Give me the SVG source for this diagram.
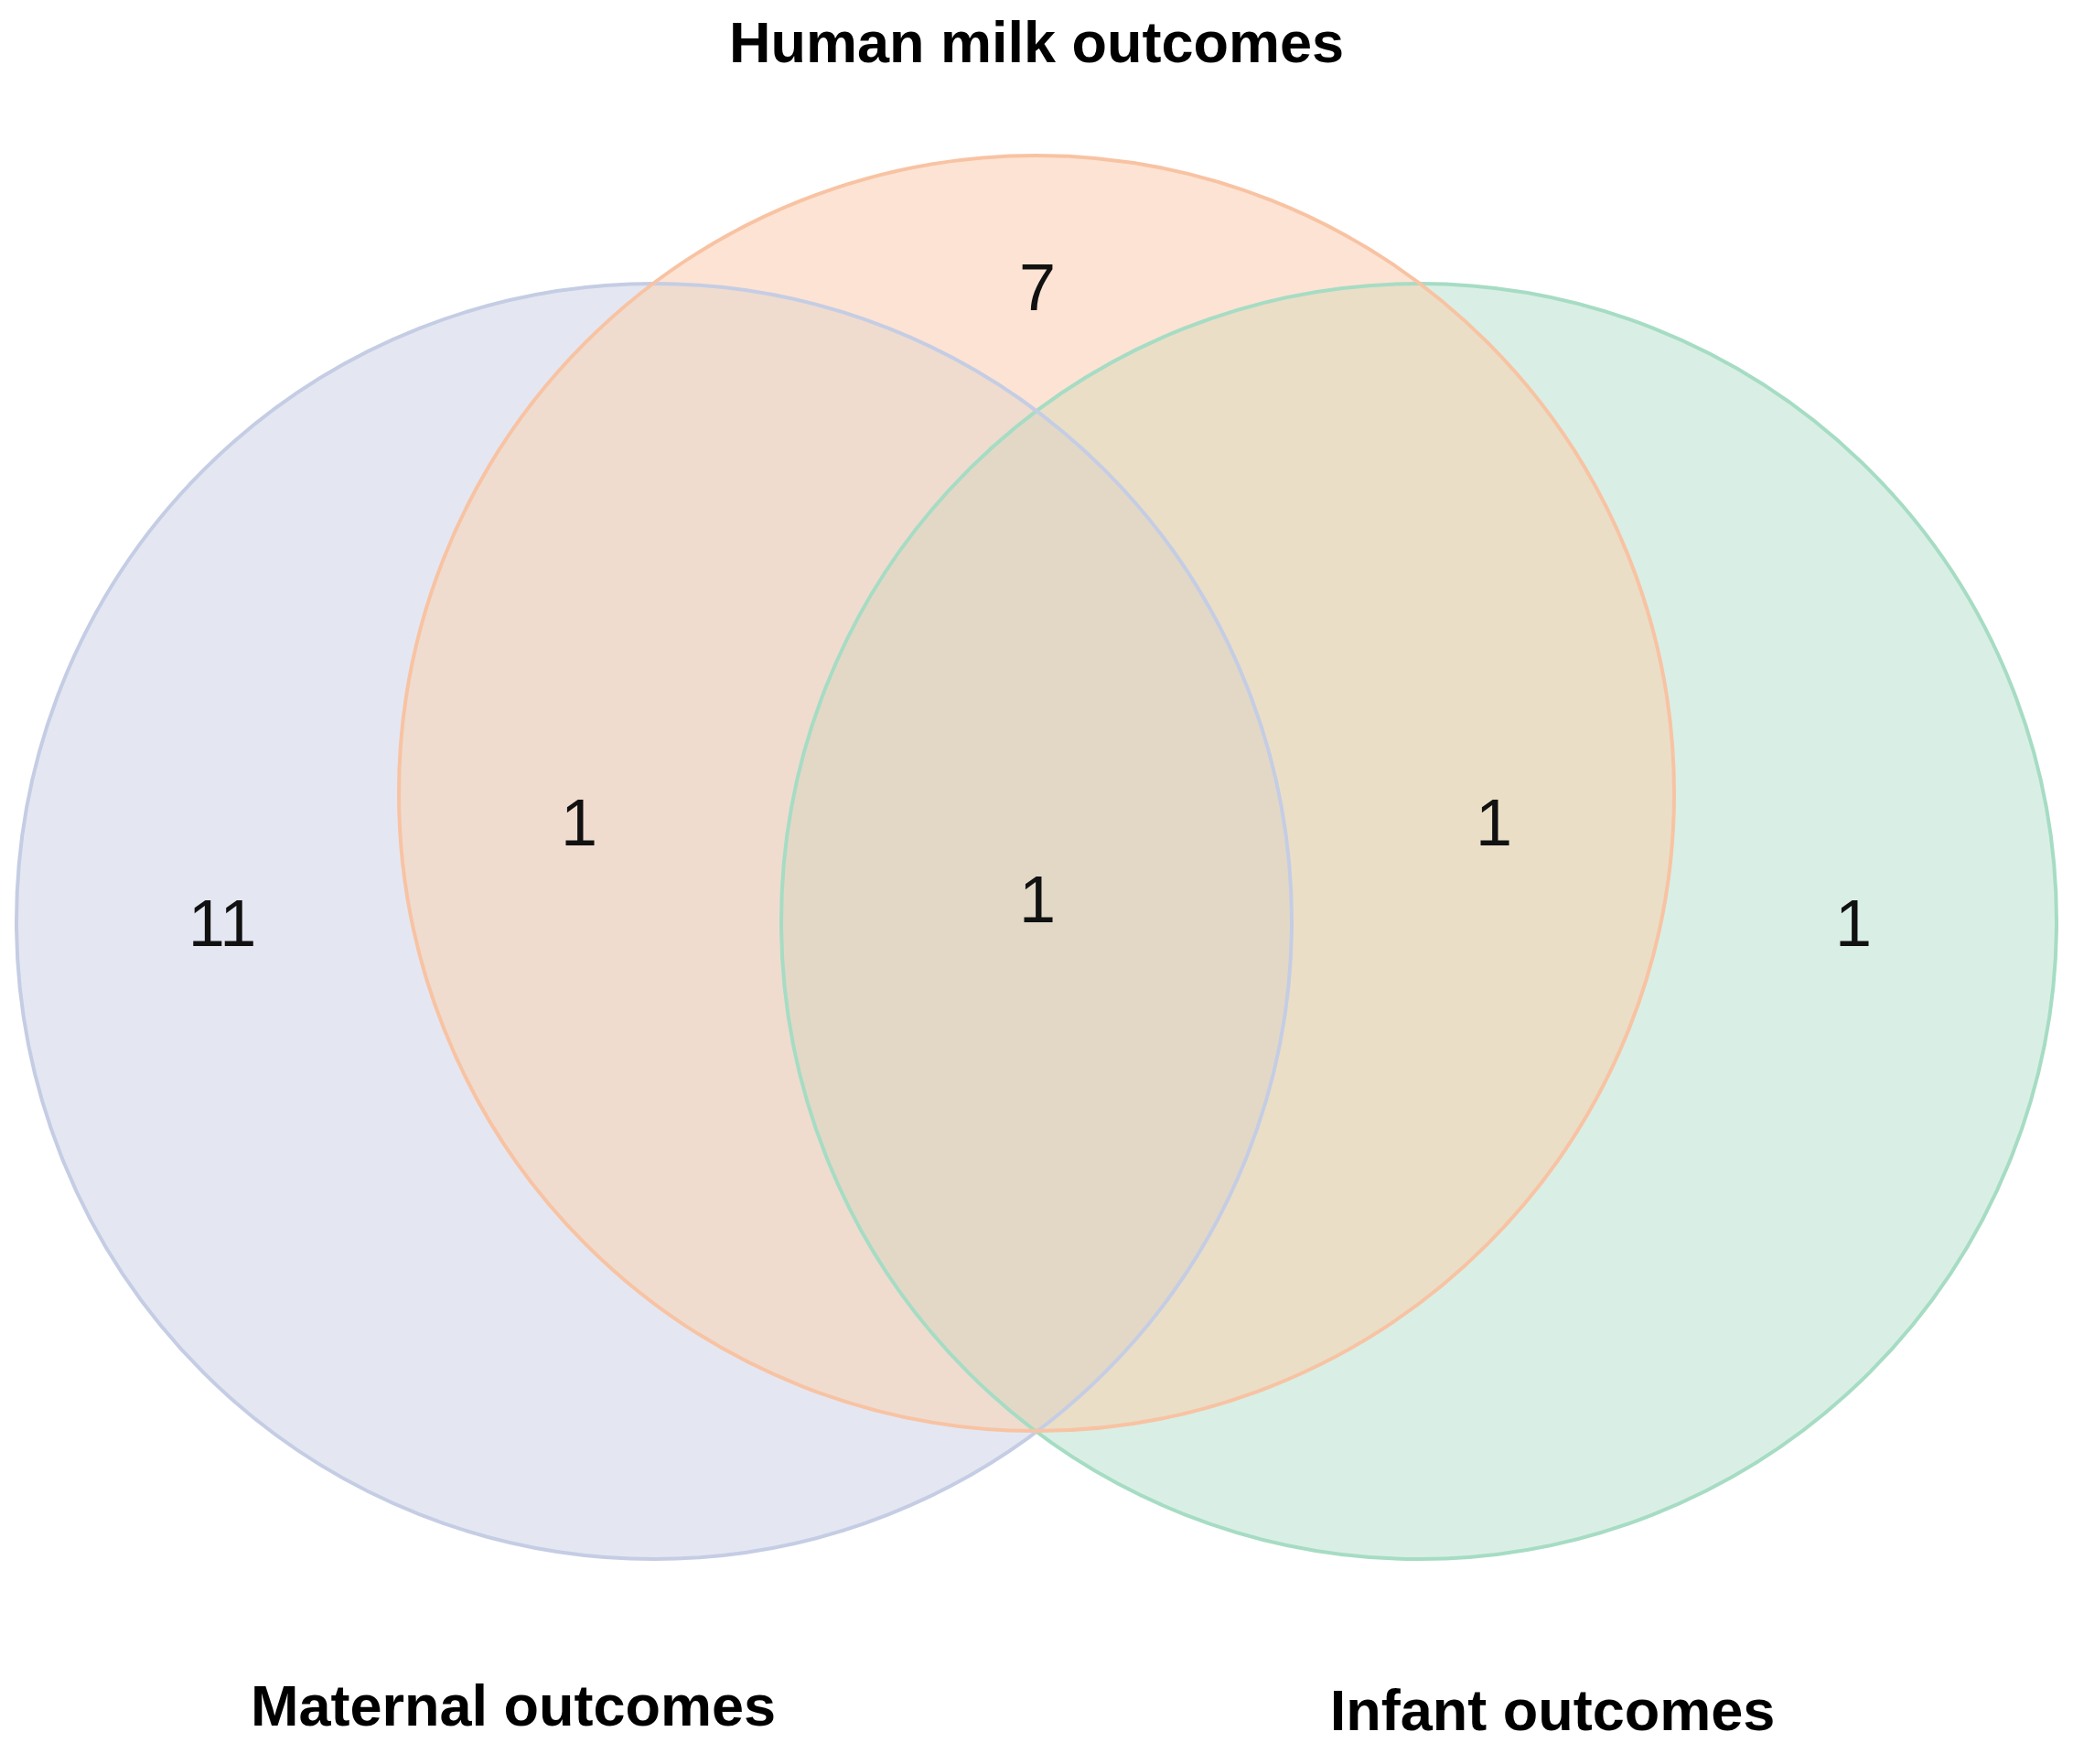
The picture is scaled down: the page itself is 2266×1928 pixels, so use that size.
<svg xmlns="http://www.w3.org/2000/svg" width="2266" height="1928" viewBox="0 0 2266 1928">
<defs>
<clipPath id="cb"><circle cx="715" cy="1007" r="697"/></clipPath>
<clipPath id="co"><circle cx="1133" cy="867" r="697"/></clipPath>
<clipPath id="cg"><circle cx="1551" cy="1007" r="697"/></clipPath>
</defs>
<style>
.s{fill:none;stroke-width:4}
.t{font-family:"Liberation Sans",Arial,sans-serif;font-weight:bold;font-size:63px;text-anchor:middle;fill:#000}
.n{font-family:"Liberation Sans",Arial,sans-serif;font-size:72px;text-anchor:middle;fill:#111}
</style>
<rect width="2266" height="1928" fill="#fff"/>
<g id="maternal"><circle cx="715" cy="1007" r="697" fill="#e4e7f2"/></g>
<g id="infant"><circle cx="1551" cy="1007" r="697" fill="#d9efe5"/></g>
<g id="blue-green" clip-path="url(#cb)"><circle cx="1551" cy="1007" r="697" fill="#dfe4e6"/></g>
<g id="milk"><circle cx="1133" cy="867" r="697" fill="#fde3d3"/></g>
<g id="milk-maternal" clip-path="url(#cb)"><circle cx="1133" cy="867" r="697" fill="#efdccf"/></g>
<g id="milk-infant" clip-path="url(#cg)"><circle cx="1133" cy="867" r="697" fill="#eadec7"/></g>
<g id="triple" clip-path="url(#cb)"><g clip-path="url(#cg)"><circle cx="1133" cy="867" r="697" fill="#e3d8c6"/></g></g>
<g id="outlines">
<circle class="s" cx="1551" cy="1007" r="697" stroke="#a6dcc4"/>
<circle class="s" cx="715" cy="1007" r="697" stroke="#c5cde4"/>
<circle class="s" cx="1133" cy="867" r="697" stroke="#f8c3a3"/>
</g>
<g id="labels">
<text class="t" x="1133" y="68">Human milk outcomes</text>
<text class="t" x="561" y="1886">Maternal outcomes</text>
<text class="t" x="1697" y="1891">Infant outcomes</text>
<text class="n" x="1134" y="339">7</text>
<text class="n" x="243" y="1034">11</text>
<text class="n" x="633" y="924">1</text>
<text class="n" x="1134" y="1008">1</text>
<text class="n" x="1633" y="924">1</text>
<text class="n" x="2026" y="1034">1</text>
</g>
<g id="connectors"/>
</svg>
